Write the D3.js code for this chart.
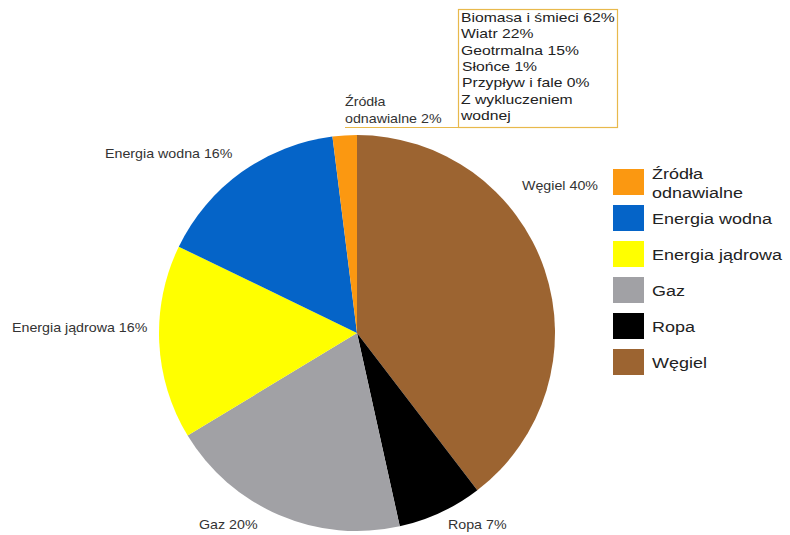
<!DOCTYPE html>
<html>
<head>
<meta charset="utf-8">
<script src="https://cdn.jsdelivr.net/npm/d3@7"></script>
<style>
  body { margin: 0; background: #fff; }
  svg { font-family: "Liberation Sans", Arial, sans-serif; }
</style>
</head>
<body>
<svg width="790" height="535"></svg>
<script>
var svg = d3.select("svg");

// slices, clockwise from 12 o'clock
var categories = ["Węgiel", "Ropa", "Gaz", "Energia jądrowa", "Energia wodna", "Źródła odnawialne"];
var values = [40, 7, 20, 16, 16, 2];
var colors = ["#9c6431", "#000000", "#a1a1a5", "#ffff00", "#0564c8", "#fb9811"];

// legend order (top to bottom)
var legendOrder = ["Źródła odnawialne", "Energia wodna", "Energia jądrowa", "Gaz", "Ropa", "Węgiel"];
var legendLines = [["Źródła", "odnawialne"], ["Energia wodna"], ["Energia jądrowa"], ["Gaz"], ["Ropa"], ["Węgiel"]];

// breakdown of renewables
var noteLines = ["Biomasa i śmieci 62%", "Wiatr 22%", "Geotrmalna 15%", "Słońce 1%", "Przypływ i fale 0%", "Z wykluczeniem", "wodnej"];

var cx = 357, cy = 333, R = 198;

var color = d3.scaleOrdinal().domain(categories).range(colors);

var pie = d3.pie().sort(null).value(function (d) { return d.v; });
var arc = d3.arc().innerRadius(0).outerRadius(R);

var data = categories.map(function (c, i) { return { name: c, v: values[i] }; });

var g = svg.append("g").attr("transform", "translate(" + cx + "," + cy + ")");
g.selectAll("path")
    .data(pie(data))
    .enter().append("path")
    .attr("d", arc)
    .attr("fill", function (d) { return color(d.data.name); });

// the original text is a bit stretched sideways
function wideText(sel, x, y, sx) {
    return sel.append("text")
        .attr("transform", "translate(" + x + "," + y + ") scale(" + sx + ",1)");
}

// slice labels (placed by hand like the original)
var labelPlaces = {
    "Węgiel": [522, 190],
    "Ropa": [448, 529],
    "Gaz": [199, 529],
    "Energia jądrowa": [12, 332],
    "Energia wodna": [105, 158]
};
var labels = svg.append("g").attr("font-size", 12.5).attr("fill", "#333");
data.forEach(function (d) {
    var p = labelPlaces[d.name];
    if (!p) return;
    wideText(labels, p[0], p[1], 1.14).text(d.name + " " + d.v + "%");
});

var ren = data[data.length - 1];
wideText(labels, 345, 106, 1.14).text("Źródła");
wideText(labels, 345, 123, 1.14).text("odnawialne " + ren.v + "%");

// note box
svg.append("rect")
    .attr("x", 458.5).attr("y", 9.5)
    .attr("width", 159).attr("height", 118)
    .attr("fill", "none")
    .attr("stroke", "#e8b94c")
    .attr("stroke-width", 1.2);
svg.append("line")
    .attr("x1", 345).attr("x2", 458.5)
    .attr("y1", 127.5).attr("y2", 127.5)
    .attr("stroke", "#e8b94c")
    .attr("stroke-width", 1.2);

var note = svg.append("g").attr("font-size", 13).attr("fill", "#222");
noteLines.forEach(function (s, i) {
    wideText(note, (i == 3 || i == 4) ? 462 : 461, 22 + i * 16.3, 1.21).text(s);
});

// legend
var legend = svg.append("g").attr("transform", "translate(613,169)");
var item = legend.selectAll("g")
    .data(legendOrder)
    .enter().append("g")
    .attr("transform", function (d, i) { return "translate(0," + (i * 36) + ")"; });

item.append("rect")
    .attr("width", 31).attr("height", 26)
    .attr("fill", function (d) { return color(d); });

item.each(function (d, i) {
    var it = d3.select(this);
    var lines = legendLines[i];
    lines.forEach(function (s, k) {
        wideText(it, 39, lines.length > 1 ? 10 + k * 19 : 19, 1.24)
            .attr("font-size", 14.5)
            .attr("fill", "#222")
            .text(s);
    });
});
</script>
</body>
</html>
